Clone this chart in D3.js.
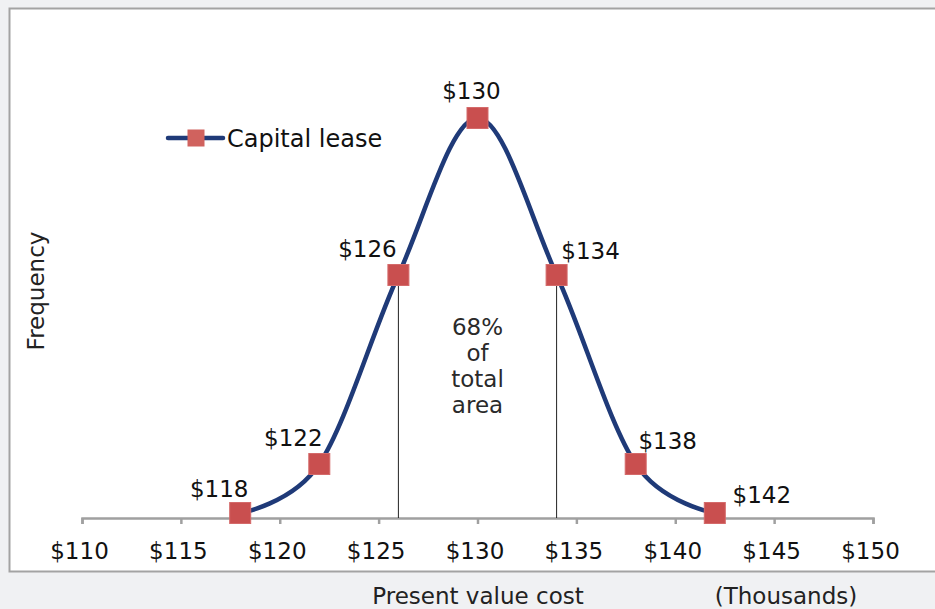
<!DOCTYPE html>
<html><head><meta charset="utf-8">
<script src="https://cdn.jsdelivr.net/npm/d3@7"></script>
<style>
html,body{margin:0;padding:0;background:#f0f1f3;}
svg{display:block;font-family:"DejaVu Sans",sans-serif;}
</style></head>
<body>
<svg id="chart" width="935" height="609"></svg>
<script>
// Data
const costs = [118, 122, 126, 130, 134, 138, 142];          // present value cost, $ thousands
const frequency = [1.25, 13.5, 60.75, 100, 60.75, 13.5, 1.25]; // relative frequency
const tickValues = [110, 115, 120, 125, 130, 135, 140, 145, 150];
const seriesName = "Capital lease";
const centerText = ["68%", "of", "total", "area"];
const boundCosts = [126, 134];

const svg = d3.select("#chart");
const W = 935, H = 609;

// panel
svg.append("rect").attr("x", 9.5).attr("y", 8.5).attr("width", 960).attr("height", 563)
  .attr("fill", "#ffffff").attr("stroke", "#a3a3a3").attr("stroke-width", 2);

const x = d3.scaleLinear().domain([110, 150]).range([82, 873]);
const y = d3.scaleLinear().domain([0, 100]).range([518, 118]);

// axis
const axis = d3.axisBottom(x).tickValues(tickValues).tickSize(6).tickPadding(19)
  .tickFormat(d => "$" + d);
const gx = svg.append("g").attr("transform", `translate(0,${y(0)})`).call(axis);
gx.select(".domain").attr("stroke", "#a0a0a0").attr("stroke-width", 2.5);
gx.selectAll(".tick line").attr("stroke", "#a0a0a0").attr("stroke-width", 2.5);
gx.selectAll(".tick text").attr("fill", "#111").attr("font-size", 23)
  .attr("font-family", "DejaVu Sans, sans-serif").attr("dx", -3);

// vertical boundary lines
svg.selectAll("line.bound").data(boundCosts).enter().append("line")
  .attr("x1", d => x(d)).attr("x2", d => x(d))
  .attr("y1", d => y(frequency[costs.indexOf(d)])).attr("y2", y(0))
  .attr("stroke", "#222").attr("stroke-width", 1);

// curve
const pts = costs.map((c, i) => [c, frequency[i]]);
const line = d3.line().x(d => x(d[0])).y(d => y(d[1])).curve(d3.curveCardinal.tension(0));
svg.append("path").datum(pts).attr("d", line).attr("fill", "none")
  .attr("stroke", "#1f3a78").attr("stroke-width", 4.5);

// markers
const ms = 21;
svg.selectAll("rect.mk").data(pts).enter().append("rect")
  .attr("x", d => x(d[0]) - ms / 2).attr("y", d => y(d[1]) - ms / 2)
  .attr("width", ms).attr("height", ms)
  .attr("fill", "#c94f4f").attr("stroke", "#d46a6a").attr("stroke-width", 1);

// point labels
const labelPlace = [[-21, -16], [-26, -18], [-31, -18], [-6, -19], [34, -16], [32, -15], [47, -10]];
svg.selectAll("text.pl").data(pts).enter().append("text")
  .attr("x", (d, i) => x(d[0]) + labelPlace[i][0])
  .attr("y", (d, i) => y(d[1]) + labelPlace[i][1])
  .attr("text-anchor", "middle").attr("font-size", 23).attr("fill", "#111")
  .text(d => "$" + d[0]);

// center text
svg.selectAll("text.ct").data(centerText).enter().append("text")
  .attr("x", x(130)).attr("y", (d, i) => 335 + i * 26)
  .attr("text-anchor", "middle").attr("font-size", 23).attr("fill", "#2a2a2a")
  .text(d => d);

// legend
svg.append("line").attr("x1", 168).attr("x2", 223).attr("y1", 138).attr("y2", 138)
  .attr("stroke", "#1f3a78").attr("stroke-width", 4.5).attr("stroke-linecap", "round");
svg.append("rect").attr("x", 196 - 8.5).attr("y", 138 - 8.5).attr("width", 17).attr("height", 17)
  .attr("fill", "#d0625e");
svg.append("text").attr("x", 227).attr("y", 147).attr("font-size", 24).attr("fill", "#111")
  .text(seriesName);

// axis titles
svg.append("text").attr("transform", "translate(44,291) rotate(-90)")
  .attr("text-anchor", "middle").attr("font-size", 23).attr("fill", "#222").text("Frequency");
svg.append("text").attr("x", 478).attr("y", 604).attr("text-anchor", "middle")
  .attr("font-size", 23).attr("fill", "#222").text("Present value cost");
svg.append("text").attr("x", 786).attr("y", 604).attr("text-anchor", "middle")
  .attr("font-size", 23).attr("fill", "#222").text("(Thousands)");
</script>
</body></html>
